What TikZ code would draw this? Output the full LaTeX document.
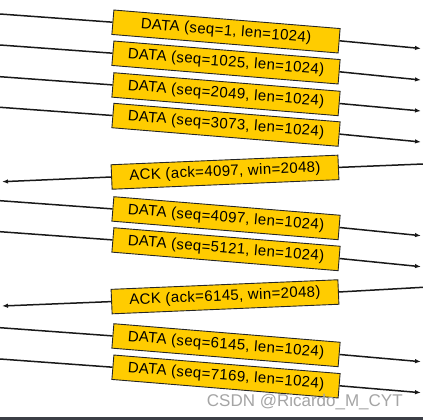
\documentclass[tikz,border=0pt]{standalone}
\usepackage{fontspec}
\setmainfont{Liberation Sans}
\newfontfamily\pktfont[LetterSpace=2.5]{Liberation Sans}
\usetikzlibrary{arrows.meta}
\definecolor{boxgold}{RGB}{255,204,0}
\definecolor{barcol}{RGB}{60,63,70}
\definecolor{wmark}{RGB}{165,165,165}
\begin{document}
\begin{tikzpicture}[x=1pt,y=-1pt,
  pkt/.style={draw=black!85, line width=0.9pt, fill=boxgold, minimum width=227pt,
    minimum height=24.5pt, inner sep=0pt, font=\pktfont\fontsize{15}{18}\selectfont, text=black},
  datapkt/.style={pkt, rotate=-4.685},
  ackpkt/.style={pkt, rotate=2.42},
  wire/.style={line width=1.5pt, black!90},
  tip/.style={wire, -{Latex[length=6pt,width=4.5pt]}}]
\useasboundingbox (0,0) rectangle (423,420);
\fill[white] (0,0) rectangle (423,420);
% free ends
\coordinate (d1s) at (0,14);    \coordinate (d1e) at (421,48.5);
\coordinate (d2s) at (0,45);    \coordinate (d2e) at (421,80);
\coordinate (d3s) at (0,76.7);  \coordinate (d3e) at (421,111);
\coordinate (d4s) at (0,107.3); \coordinate (d4e) at (421,142);
\coordinate (a1s) at (423,164); \coordinate (a1e) at (2,181.7);
\coordinate (d5s) at (0,200.7); \coordinate (d5e) at (421,235.7);
\coordinate (d6s) at (0,231.7); \coordinate (d6e) at (421,266.7);
\coordinate (a2s) at (423,287.3); \coordinate (a2e) at (2,306);
\coordinate (d7s) at (0,327.7); \coordinate (d7e) at (421,361.7);
\coordinate (d8s) at (0,359);   \coordinate (d8e) at (421,392.7);
% box centres
\path (226,31.5)  coordinate (c1) (226,62.5) coordinate (c2) (226,94.2) coordinate (c3)
      (226,124.8) coordinate (c4) (225,172.2) coordinate (c5) (226,218.2) coordinate (c6)
      (226,249.2) coordinate (c7) (225,296.8) coordinate (c8) (226,345.2) coordinate (c9)
      (226,376.5) coordinate (c10);
\node[datapkt] (d1) at (c1) {DATA (seq=1, len=1024)};
\node[datapkt] (d2) at (c2) {DATA (seq=1025, len=1024)};
\node[datapkt] (d3) at (c3) {DATA (seq=2049, len=1024)};
\node[datapkt] (d4) at (c4) {DATA (seq=3073, len=1024)};
\node[ackpkt]  (a1) at (c5) {ACK (ack=4097, win=2048)};
\node[datapkt] (d5) at (c6) {DATA (seq=4097, len=1024)};
\node[datapkt] (d6) at (c7) {DATA (seq=5121, len=1024)};
\node[ackpkt]  (a2) at (c8) {ACK (ack=6145, win=2048)};
\node[datapkt] (d7) at (c9) {DATA (seq=6145, len=1024)};
\node[datapkt] (d8) at (c10) {DATA (seq=7169, len=1024)};
\foreach \n in {d1,d2,d3,d4,d5,d6,d7,d8}{
  \draw[wire] (\n s) -- (\n.west);
  \draw[tip] (\n.east) -- (\n e);
}
\foreach \n in {a1,a2}{
  \draw[wire] (\n s) -- (\n.east);
  \draw[tip] (\n.west) -- (\n e);
}
% watermark and bottom bar
\node[anchor=base west, inner sep=0pt, text=wmark, font=\fontsize{17}{20}\selectfont] (wm) at (206.7,406.7) {CSDN @Ricardo\_M\_CYT};
\fill[barcol] (0,416.7) rectangle (423,420);
\end{tikzpicture}
\end{document}
